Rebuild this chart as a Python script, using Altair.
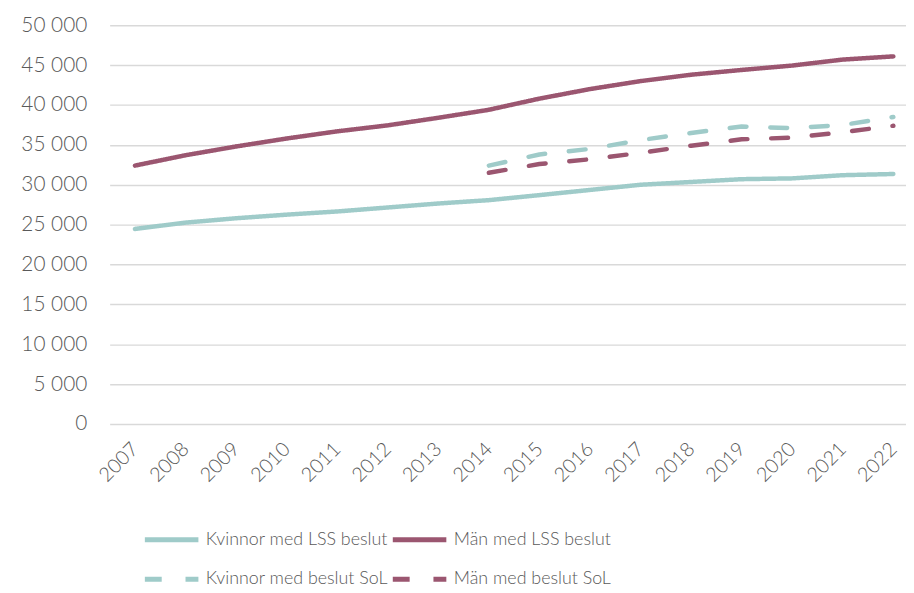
import altair as alt
import pandas as pd

years = list(range(2007, 2023))
kvinnor_lss = [24460, 25250, 25800, 26250, 26650, 27150, 27650, 28070, 28700, 29350, 30000, 30350, 30700, 30800, 31200, 31350]
man_lss = [32400, 33700, 34800, 35800, 36700, 37450, 38400, 39400, 40800, 42000, 43000, 43800, 44400, 44950, 45700, 46100]
kvinnor_sol = [None] * 7 + [32400, 33800, 34500, 35600, 36500, 37300, 37100, 37500, 38500]
man_sol = [None] * 7 + [31500, 32600, 33200, 34000, 34900, 35700, 35900, 36600, 37400]

series_names = ["Kvinnor med LSS beslut", "Män med LSS beslut",
                "Kvinnor med beslut SoL", "Män med beslut SoL"]
series_values = [kvinnor_lss, man_lss, kvinnor_sol, man_sol]
colors = ["#9fcbc9", "#9b5670", "#9fcbc9", "#9b5670"]
dashes = [[1, 0], [1, 0], [17, 24], [17, 24]]

rows = []
for i, (name, vals) in enumerate(zip(series_names, series_values)):
    for yr, v in zip(years, vals):
        if v is not None:
            rows.append({"year": yr, "value": v, "series": name, "order": i})
df = pd.DataFrame(rows)

FONT = "Lato"

legend = alt.Legend(orient="none", legendX=33, legendY=489,
                    columns=2, title=None, symbolType="stroke",
                    symbolSize=2916, symbolStrokeWidth=5,
                    labelFontSize=18, labelFont=FONT,
                    labelFontWeight=300, labelColor="#595959",
                    labelOffset=5, columnPadding=-6, rowPadding=-14,
                    labelLimit=400, direction="horizontal")

chart = alt.Chart(df).mark_line(strokeWidth=4.5, strokeCap="round", strokeJoin="round").encode(
    x=alt.X("year:Q",
            scale=alt.Scale(domain=[2006.5, 2022.25], nice=False, zero=False),
            axis=alt.Axis(values=years, format="d", labelAngle=-45, labelAlign="right",
                          labelBaseline="middle", grid=False, ticks=False, domain=False,
                          labelPadding=22, labelFontSize=20, labelColor="#595959",
                          labelFont=FONT, labelFontWeight=300, title=None,
                          labelOverlap=False)),
    y=alt.Y("value:Q",
            scale=alt.Scale(domain=[0, 50000], nice=False),
            axis=alt.Axis(values=list(range(0, 50001, 5000)),
                          labelExpr="replace(format(datum.value, ','), ',', ' ')",
                          grid=True, gridColor="#d9d9d9", gridWidth=1.5,
                          ticks=False, domain=False, labelPadding=23,
                          labelFontSize=21, labelColor="#595959", labelFont=FONT,
                          labelFontWeight=300, title=None)),
    color=alt.Color("series:N",
                    scale=alt.Scale(domain=series_names, range=colors),
                    sort=series_names,
                    legend=legend),
    strokeDash=alt.StrokeDash("series:N",
                              scale=alt.Scale(domain=series_names, range=dashes),
                              sort=series_names,
                              legend=legend),
    detail="order:O",
).properties(
    width=803,
    height=402,
    autosize=alt.AutoSizeParams(type="none"),
    padding={"left": 102.5, "top": 15, "right": 0, "bottom": 166},
).configure_view(stroke=None)

chart.save("out.html", embed_options={"renderer": "svg", "actions": False})
